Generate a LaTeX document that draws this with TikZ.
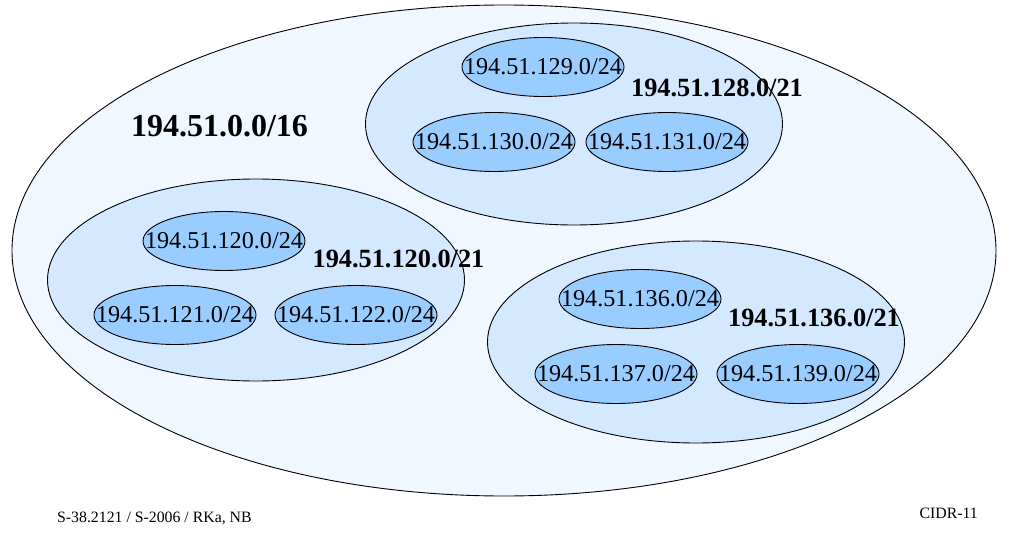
\documentclass[tikz,border=0pt]{standalone}
\usepackage{fontspec}
\setmainfont{Liberation Serif}
\usetikzlibrary{shapes.geometric}
\definecolor{outerfill}{RGB}{240,247,255}
\definecolor{midfill}{RGB}{212,232,255}
\definecolor{innerfill}{RGB}{153,204,255}
\begin{document}
\begin{tikzpicture}[x=1pt,y=1pt,
  region/.style={ellipse,draw=black,line width=0.9pt,inner sep=0pt},
  bigzone/.style={region,fill=outerfill,minimum width=984pt,minimum height=491pt},
  midzone/.style={region,fill=midfill,minimum width=417pt,minimum height=202pt},
  subnet/.style={region,fill=innerfill,minimum width=162pt,minimum height=59pt},
  subtxt/.style={inner sep=0pt,font=\fontsize{24.2}{26}\selectfont},
  midtxt/.style={inner sep=0pt,font=\fontsize{26.3}{28}\selectfont\bfseries},
  toptxt/.style={inner sep=0pt,font=\fontsize{32}{34}\selectfont\bfseries},
  foot/.style={inner sep=0pt,font=\fontsize{15.8}{17}\selectfont}]
\useasboundingbox (0,0) rectangle (1010,-541);
\fill[white] (0,0) rectangle (1010,-541);
% outer /16
\node[bigzone] (all) at (504,-250.5) {};
% /21 regions
\node[midzone] (g128) at (574,-124) {};
\node[midzone] (g120) at (256,-280) {};
\node[midzone] (g136) at (696,-342) {};
% /24 subnets
\node[subnet] (s129) at (543,-67) {};
\node[subnet] (s130) at (494,-142) {};
\node[subnet] (s131) at (667,-142) {};
\node[subnet] (s120) at (224,-241) {};
\node[subnet] (s121) at (175,-315) {};
\node[subnet] (s122) at (356,-315) {};
\node[subnet] (s136) at (640,-299) {};
\node[subnet] (s137) at (616,-374) {};
\node[subnet] (s139) at (798,-374) {};
% subnet labels
\node[subtxt] (t129) at (s129) {194.51.129.0/24};
\node[subtxt] (t130) at (s130) {194.51.130.0/24};
\node[subtxt] (t131) at (s131) {194.51.131.0/24};
\node[subtxt] (t120) at (s120) {194.51.120.0/24};
\node[subtxt] (t121) at (s121) {194.51.121.0/24};
\node[subtxt] (t122) at (s122) {194.51.122.0/24};
\node[subtxt] (t136) at (s136) {194.51.136.0/24};
\node[subtxt] (t137) at (s137) {194.51.137.0/24};
\node[subtxt] (t139) at (s139) {194.51.139.0/24};
% region labels
\node[midtxt] (l128) at (717,-88) {194.51.128.0/21};
\node[midtxt] (l120) at (398.5,-259) {194.51.120.0/21};
\node[midtxt] (l136) at (814,-318) {194.51.136.0/21};
\node[toptxt] (l16) at (219.5,-126) {194.51.0.0/16};
% footer
\node[foot,anchor=west] (f1) at (57,-518) {S-38.2121 / S-2006 / RKa, NB};
\node[foot,anchor=east] (f2) at (978,-513) {CIDR-11};
\end{tikzpicture}
\end{document}
